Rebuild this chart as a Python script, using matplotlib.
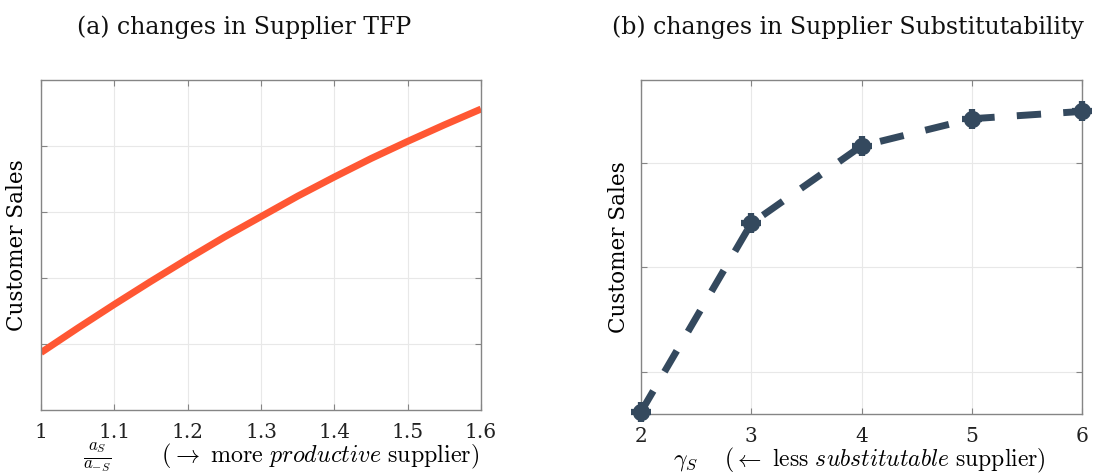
import matplotlib.pyplot as plt
import numpy as np

plt.rcParams['mathtext.fontset'] = 'cm'
plt.rcParams['font.family'] = ['DejaVu Serif']

# panel (a): customer sales against relative supplier productivity
tfp_x = [1.0, 1.05, 1.1, 1.15, 1.2, 1.25, 1.3, 1.35, 1.4, 1.45, 1.5, 1.55, 1.6]
tfp_sales = [0.87, 1.24, 1.60, 1.95, 2.29, 2.62, 2.93, 3.24, 3.53, 3.81, 4.07, 4.32, 4.56]

# panel (b): customer sales against supplier substitutability
gamma_x = [2, 3, 4, 5, 6]
gamma_sales = [0.62, 2.42, 3.16, 3.42, 3.49]

tfp_ticks = [1, 1.1, 1.2, 1.3, 1.4, 1.5, 1.6]
tfp_ticklabels = ['1', '1.1', '1.2', '1.3', '1.4', '1.5', '1.6']
gamma_ticks = [2, 3, 4, 5, 6]

orange = '#FF5733'
slate = '#34495E'
edge = '#858585'

fig = plt.figure(figsize=(11.03, 4.73), dpi=100)
W, H = 1103, 473
ax1 = fig.add_axes([41 / W, 1 - 410 / H, 440 / W, 330 / H])
ax2 = fig.add_axes([641 / W, 1 - 414 / H, 441 / W, 334 / H])

for ax in (ax1, ax2):
    ax.grid(True, color='#e8e8e8', linewidth=0.8)
    ax.set_axisbelow(True)
    for s in ax.spines.values():
        s.set_color(edge)
        s.set_linewidth(1.0)
    ax.tick_params(direction='in', length=4, color=edge, top=True, right=True,
                   labelsize=14.5, labelcolor='#222222', pad=9)

ax1.plot(tfp_x, tfp_sales, color=orange, linewidth=5, solid_capstyle='butt')
ax1.set_xlim(1, 1.6)
ax1.set_ylim(0, 5)
ax1.set_xticks(tfp_ticks)
ax1.set_xticklabels(tfp_ticklabels)
ax1.set_yticks([1, 2, 3, 4])
ax1.set_yticklabels([])
ax1.set_ylabel('Customer Sales', fontsize=15.5)
ax1.yaxis.set_label_coords(-0.03, 0.5)
ax1.set_xlabel(r'$\frac{a_S}{a_{-S}}\qquad\ (\rightarrow\ \mathrm{more}\ \mathit{productive}\ \mathrm{supplier})$',
               fontsize=17.3)
ax1.xaxis.label.set_va('center')
ax1.xaxis.set_label_coords(0.545, -0.145)

ax2.plot(gamma_x, gamma_sales, color=slate, linewidth=5, dashes=(3.5, 3.2),
         dash_capstyle='butt', clip_on=False, zorder=3)
ax2.plot(gamma_x, gamma_sales, linestyle='none', marker='o', markersize=11.5,
         color=slate, clip_on=False, zorder=4)
ax2.plot(gamma_x, gamma_sales, linestyle='none', marker='+', markersize=14,
         markeredgewidth=4.5, color=slate, clip_on=False, zorder=4)
ax2.set_xlim(2, 6)
ax2.set_ylim(0.6, 3.79)
ax2.set_xticks(gamma_ticks)
ax2.set_yticks([1, 2, 3])
ax2.set_yticklabels([])
ax2.set_ylabel('Customer Sales', fontsize=15.5)
ax2.yaxis.set_label_coords(-0.025, 0.5)
ax2.set_xlabel(r'$\gamma_S\quad\ (\leftarrow\ \mathrm{less}\ \mathit{substitutable}\ \mathrm{supplier})$',
               fontsize=17)
ax2.xaxis.label.set_va('center')
ax2.xaxis.set_label_coords(0.495, -0.138)

fig.text(244 / W, 1 - 27 / H, '(a) changes in Supplier TFP', fontsize=17,
         ha='center', va='center', color='#111111')
fig.text(848 / W, 1 - 27 / H, '(b) changes in Supplier Substitutability', fontsize=17,
         ha='center', va='center', color='#111111')

fig.savefig('out.png', dpi=100)
